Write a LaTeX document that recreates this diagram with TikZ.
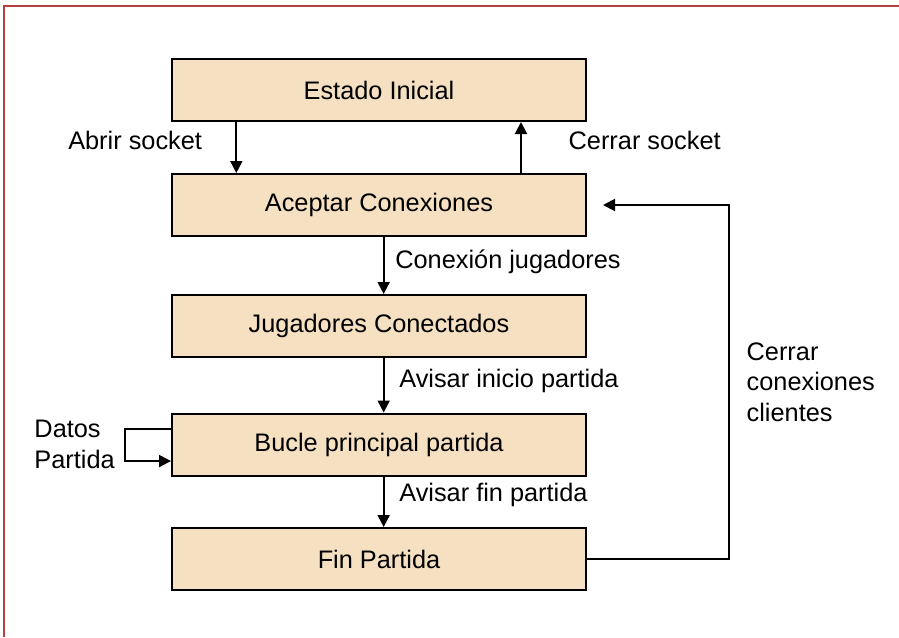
\documentclass[tikz,border=0pt]{standalone}
\usepackage{fontspec}
\setmainfont{Liberation Sans}
\usepackage{tikz}
\usetikzlibrary{arrows.meta,positioning}
\definecolor{boxfill}{HTML}{F5E1C1}
\definecolor{framered}{HTML}{B5403F}

\begin{document}
\begin{tikzpicture}[x=0.75pt, y=-0.75pt,
  every node/.style = {font=\fontsize{19}{23}\selectfont},
  state/.style = {shape=rectangle, draw, line width=1.5pt,
    fill=boxfill, minimum width=310.5pt, minimum height=46.5pt},
  lbl/.style = {inner sep=0pt, align=left},
  flow/.style = {line width=1.5pt, -{Triangle[length=9pt,width=9pt]}}]
  \useasboundingbox (0,0) rectangle (899,637);
  \draw[framered, line width=2pt] (4,637) -- (4,6) -- (899,6);
  % estados
  \node[state] (e1) at (379,90) {Estado Inicial};
  \node[state] (e2) at (379,205) {Aceptar Conexiones};
  \node[state] (e3) at (379,326) {Jugadores Conectados};
  \node[state] (e4) at (379,444.5) {Bucle principal partida};
  \node[state] (e5) at (379,559) {Fin Partida};
  % transiciones
  \draw[flow] ([xshift=-107pt]e1.south) -- ([xshift=-107pt]e2.north)
    node[lbl, pos=0.37, left=25pt] {Abrir socket};
  \draw[flow] ([xshift=106.5pt]e2.north) -- ([xshift=106.5pt]e1.south)
    node[lbl, pos=0.63, right=35pt] {Cerrar socket};
  \draw[flow] ([xshift=3.5pt]e2.south) -- ([xshift=3.5pt]e3.north)
    node[lbl, pos=0.44, right=8pt] {Conexión jugadores};
  \draw[flow] ([xshift=3.5pt]e3.south) -- ([xshift=3.5pt]e4.north)
    node[lbl, pos=0.43, right=11pt] {Avisar inicio partida};
  \draw[flow] ([xshift=3.5pt]e4.south) -- ([xshift=3.5pt]e5.north)
    node[lbl, pos=0.37, right=11pt] {Avisar fin partida};
  \draw[flow] ([yshift=11.6pt]e4.west) -- ++(-46,0) |- ([yshift=-12.4pt]e4.west);
  \node[lbl, left=42pt of e4.west] (datos) {Datos\\Partida};
  \draw[flow] (e5.east) -- ++(142,0) |- ([xshift=12pt]e2.east)
    node[lbl, pos=0.25, right=12.5pt] {Cerrar\\conexiones\\clientes};
\end{tikzpicture}
\end{document}
